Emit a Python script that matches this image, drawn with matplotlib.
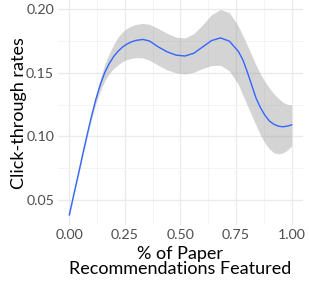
import matplotlib
matplotlib.use("Agg")
import matplotlib.pyplot as plt
from matplotlib.ticker import MultipleLocator

share = [0.00, 0.02, 0.04, 0.06, 0.08, 0.10, 0.12, 0.14, 0.16, 0.18, 0.20, 0.22, 0.24,
         0.26, 0.28, 0.30, 0.33, 0.36, 0.40, 0.44, 0.48, 0.52, 0.56, 0.60, 0.64, 0.68,
         0.72, 0.76, 0.78, 0.80, 0.82, 0.84, 0.86, 0.88, 0.90, 0.92, 0.94, 0.96, 0.98, 1.00]
ctr = [0.0380, 0.0540, 0.0695, 0.0855, 0.1010, 0.1160, 0.1295, 0.1410, 0.1505, 0.1575, 0.1630,
       0.1672, 0.1705, 0.1728, 0.1745, 0.1756, 0.1764, 0.1752, 0.1705, 0.1666, 0.1640, 0.1633,
       0.1655, 0.1705, 0.1755, 0.1776, 0.1750, 0.1670, 0.1605, 0.1510, 0.1405, 0.1300, 0.1225,
       0.1165, 0.1120, 0.1095, 0.1080, 0.1075, 0.1080, 0.1090]
upper = [0.0395, 0.0553, 0.0710, 0.0872, 0.1030, 0.1185, 0.1330, 0.1460, 0.1570, 0.1655, 0.1725,
         0.1785, 0.1825, 0.1852, 0.1870, 0.1882, 0.1890, 0.1883, 0.1850, 0.1812, 0.1782, 0.1775,
         0.1810, 0.1880, 0.1960, 0.2000, 0.1975, 0.1870, 0.1795, 0.1720, 0.1640, 0.1560, 0.1490,
         0.1430, 0.1380, 0.1335, 0.1300, 0.1270, 0.1252, 0.1247]
lower = [0.0365, 0.0527, 0.0680, 0.0838, 0.0990, 0.1135, 0.1260, 0.1360, 0.1440, 0.1495, 0.1535,
         0.1565, 0.1590, 0.1605, 0.1615, 0.1620, 0.1618, 0.1600, 0.1560, 0.1523, 0.1500, 0.1492,
         0.1505, 0.1535, 0.1558, 0.1560, 0.1515, 0.1410, 0.1325, 0.1245, 0.1165, 0.1085, 0.1010,
         0.0945, 0.0900, 0.0870, 0.0862, 0.0868, 0.0890, 0.0925]
x_ticks = [0.00, 0.25, 0.50, 0.75, 1.00]
x_tick_labels = ['0.00', '0.25', '0.50', '0.75', '1.00']
y_ticks = [0.05, 0.10, 0.15, 0.20]
y_tick_labels = ['0.05', '0.10', '0.15', '0.20']

plt.rcParams['font.family'] = ['Lato', 'DejaVu Sans']

fig = plt.figure(figsize=(3.09, 2.85), dpi=100)
ax = fig.add_axes([0.1883, 0.2095, 0.7916, 0.7937])

ax.fill_between(share, lower, upper, color='#999999', alpha=0.42, linewidth=0, zorder=2)
ax.plot(share, ctr, color='#3366FF', linewidth=1.0, zorder=3, solid_joinstyle='round')

ax.set_xlim(-0.05, 1.05)
ax.set_ylim(0.0298, 0.2082)
ax.xaxis.set_minor_locator(MultipleLocator(0.125))
ax.yaxis.set_minor_locator(MultipleLocator(0.025))
ax.set_xticks(x_ticks)
ax.set_xticklabels(x_tick_labels)
ax.set_yticks(y_ticks)
ax.set_yticklabels(y_tick_labels)

ax.grid(which='major', color='#EBEBEB', linewidth=1.0, zorder=0)
ax.grid(which='minor', color='#F3F3F3', linewidth=0.6, zorder=0)
ax.set_axisbelow(True)
for s in ax.spines.values():
    s.set_visible(False)
ax.tick_params(which='both', length=0)
ax.tick_params(axis='both', labelsize=10.2, labelcolor='#4D4D4D', pad=3)

ax.set_xlabel('% of Paper\nRecommendations Featured', fontsize=13, color='black',
              linespacing=0.95, labelpad=3)
ax.set_ylabel('Click-through rates', fontsize=13, color='black')
ax.yaxis.set_label_coords(-0.128, 0.496)

fig.savefig('out.png', dpi=100)
